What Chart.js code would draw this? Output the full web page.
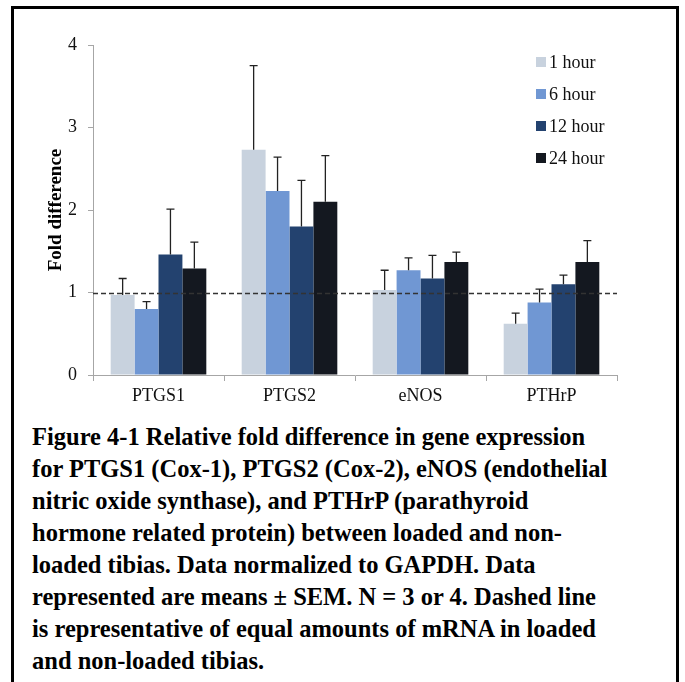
<!DOCTYPE html>
<html>
<head>
<meta charset="utf-8">
<script src="https://cdn.jsdelivr.net/npm/chart.js@4.4.1/dist/chart.umd.min.js"></script>
<style>
  body { margin: 0; background: #fff; width: 685px; height: 682px; overflow: hidden; position: relative; }
  #frame { position: absolute; left: 11px; top: 6px; width: 668px; height: 700px; border: 3px solid #000; box-sizing: border-box; }
  #wrap { position: absolute; left: 0; top: 0; width: 685px; height: 410px; }
  #caption { position: absolute; left: 32px; top: 421px; font-family: 'Liberation Serif', 'Times New Roman', serif;
             font-weight: bold; font-size: 24.5px; line-height: 32px; color: #000; white-space: nowrap; }
</style>
</head>
<body>
<div id="frame"></div>
<div id="wrap"><canvas id="barChart"></canvas></div>
<div id="caption">
Figure 4-1 Relative fold difference in gene expression<br>
for PTGS1 (Cox-1), PTGS2 (Cox-2), eNOS (endothelial<br>
nitric oxide synthase), and PTHrP (parathyroid<br>
hormone related protein) between loaded and non-<br>
loaded tibias. Data normalized to GAPDH. Data<br>
represented are means ± SEM. N = 3 or 4. Dashed line<br>
is representative of equal amounts of mRNA in loaded<br>
and non-loaded tibias.
</div>
<script>
const categories = ['PTGS1', 'PTGS2', 'eNOS', 'PTHrP']
const seriesLabels = ['1 hour', '6 hour', '12 hour', '24 hour']
const means1h = [0.97, 2.73, 1.03, 0.62]
const means6h = [0.80, 2.23, 1.27, 0.88]
const means12h = [1.46, 1.80, 1.17, 1.10]
const means24h = [1.29, 2.10, 1.37, 1.37]
const sem1h = [0.20, 1.02, 0.24, 0.13]
const sem6h = [0.09, 0.41, 0.15, 0.16]
const sem12h = [0.55, 0.56, 0.28, 0.11]
const sem24h = [0.32, 0.56, 0.12, 0.26]
const yTicks = [0, 1, 2, 3, 4]
const baseline = 1

const colors = ['#c8d2de', '#7097d3', '#23426f', '#141820']
const serif = "'Liberation Serif', 'Times New Roman', serif"

const means = [means1h, means6h, means12h, means24h]
const sems = [sem1h, sem6h, sem12h, sem24h]

// upper error bars + dashed reference line
const errorBars = {
  id: 'errorBars',
  afterDatasetsDraw(chart) {
    const ctx = chart.ctx
    const y = chart.scales.y
    const area = chart.chartArea
    ctx.save()
    ctx.strokeStyle = '#222'
    ctx.lineWidth = 1.3
    chart.data.datasets.forEach((ds, d) => {
      chart.getDatasetMeta(d).data.forEach((bar, i) => {
        const top = y.getPixelForValue(ds.data[i] + sems[d][i])
        const base = y.getPixelForValue(ds.data[i])
        ctx.beginPath()
        ctx.moveTo(bar.x, base)
        ctx.lineTo(bar.x, top)
        ctx.moveTo(bar.x - 4, top)
        ctx.lineTo(bar.x + 4, top)
        ctx.stroke()
      })
    })
    const yb = Math.round(y.getPixelForValue(baseline)) + 0.5
    ctx.strokeStyle = '#333'
    ctx.lineWidth = 1.5
    ctx.setLineDash([5, 3])
    ctx.beginPath()
    ctx.moveTo(area.left, yb)
    ctx.lineTo(area.right, yb)
    ctx.stroke()
    ctx.restore()
  }
}

// legend drawn inside the plot, top right
const sideLegend = {
  id: 'sideLegend',
  afterDraw(chart) {
    const ctx = chart.ctx
    ctx.save()
    ctx.font = '18px ' + serif
    ctx.textBaseline = 'middle'
    chart.data.datasets.forEach((ds, d) => {
      const cy = 62 + d * 32
      ctx.fillStyle = ds.backgroundColor
      ctx.fillRect(536, cy - 5, 10, 10)
      ctx.fillStyle = '#111'
      ctx.fillText(ds.label, 549, cy + 1)
    })
    ctx.restore()
  }
}

const data = {
  labels: categories,
  datasets: seriesLabels.map((lab, d) => ({
    label: lab,
    data: means[d],
    backgroundColor: colors[d],
    borderWidth: 0,
    categoryPercentage: 0.73,
    barPercentage: 1.0
  }))
}

const ctx = document.getElementById('barChart').getContext('2d')

const myChart = new Chart(ctx, {
  type: 'bar',
  data: data,
  plugins: [errorBars, sideLegend],
  options: {
    responsive: true,
    maintainAspectRatio: false,
    animation: false,
    layout: { padding: { left: 41, right: 68, top: 45, bottom: 0 } },
    plugins: { legend: { display: false }, tooltip: { enabled: false } },
    scales: {
      x: {
        grid: { drawOnChartArea: false, tickLength: 6, color: '#a6a6a6', offset: true },
        border: { color: '#a6a6a6' },
        ticks: { color: '#111', font: { family: serif, size: 18 }, padding: 4 },
        afterFit(scale) { scale.height = 35 }
      },
      y: {
        min: 0,
        max: 4,
        afterBuildTicks(scale) { scale.ticks = yTicks.map(v => ({ value: v })) },
        grid: { drawOnChartArea: false, tickLength: 5, color: '#a6a6a6' },
        border: { color: '#a6a6a6' },
        ticks: { color: '#111', font: { family: serif, size: 18 }, padding: 11 },
        title: { display: true, text: 'Fold difference', color: '#000', font: { family: serif, size: 19, weight: 'bold' } },
        afterFit(scale) { scale.width = 52 }
      }
    }
  }
})
</script>
</body>
</html>
